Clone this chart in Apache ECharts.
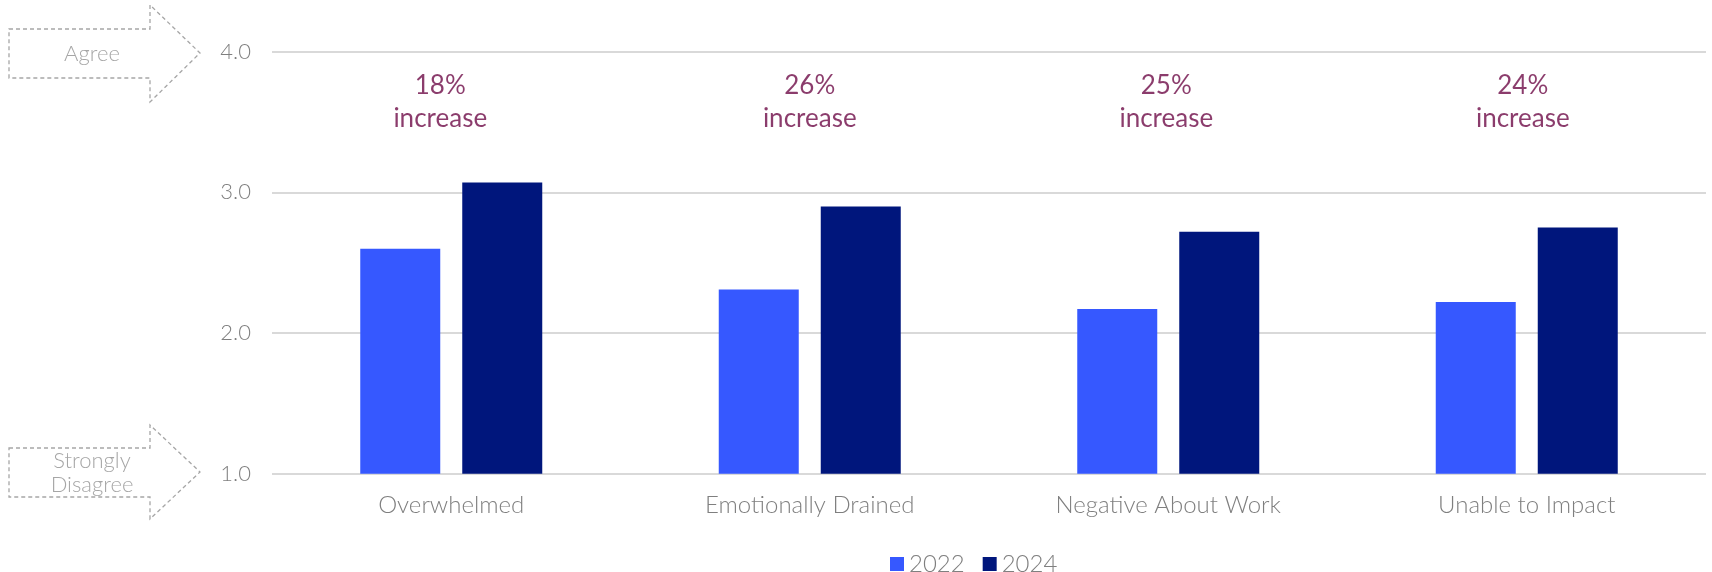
<!DOCTYPE html>
<html>
<head>
<meta charset="utf-8">
<script src="https://cdn.jsdelivr.net/npm/echarts@6/dist/echarts.min.js"></script>
<style>
  html, body { margin: 0; padding: 0; background: #ffffff; }
  #chart { width: 1712px; height: 572px; }
</style>
</head>
<body>
<div id="chart"></div>
<script>
// Burnout indicators, mean agreement score (1 = Strongly Disagree, 4 = Agree)
const categories = ['Overwhelmed', 'Emotionally Drained', 'Negative About Work', 'Unable to Impact'];
const values2022 = [2.60, 2.31, 2.17, 2.22];
const values2024 = [3.07, 2.90, 2.72, 2.75];
const increasePct = [18, 26, 25, 24];
const yTicks = [1, 2, 3, 4];

const FONT = 'Lato, "Noto Sans", sans-serif';
const GREY = '#7f7f7f';
const ARROW_GREY = '#a6a6a6';

// horizontal nudge of each change note relative to its category centre
const noteShiftX = [-11, 0, -2, -4];

const chart = echarts.init(document.getElementById('chart'), null, { renderer: 'canvas' });

// Dashed block arrow with a text label inside, pointing right at an axis tick
function blockArrow(yTop, yBody1, yTip, yBody2, yBottom, lines) {
  const els = [{
    type: 'polygon',
    shape: { points: [[9, yBody1], [150, yBody1], [150, yTop], [200, yTip], [150, yBottom], [150, yBody2], [9, yBody2]] },
    style: { fill: 'none', stroke: ARROW_GREY, lineWidth: 1.3, lineDash: [4, 3] }
  }];
  const mid = (yBody1 + yBody2) / 2;
  const lh = 24;
  lines.forEach((t, i) => {
    els.push({
      type: 'text',
      x: 92, y: mid + (i - (lines.length - 1) / 2) * lh,
      style: {
        text: t, fill: ARROW_GREY, font: '300 22px ' + FONT,
        align: 'center', verticalAlign: 'middle'
      }
    });
  });
  return els;
}

const option = {
  animation: false,
  backgroundColor: '#ffffff',
  grid: { left: 272, right: 6, top: 51.7, bottom: 98.3, containLabel: false },
  legend: {
    data: ['2022', '2024'],
    left: 885, top: 547,
    itemWidth: 14, itemHeight: 14, itemGap: 18,
    icon: 'rect',
    textStyle: { color: GREY, fontFamily: FONT, fontSize: 24, fontWeight: 300 }
  },
  xAxis: {
    type: 'category',
    data: categories,
    axisLine: { show: false },
    axisTick: { show: false },
    axisLabel: { color: GREY, fontFamily: FONT, fontSize: 24, fontWeight: 300, margin: 20 }
  },
  yAxis: {
    type: 'value',
    min: yTicks[0], max: yTicks[yTicks.length - 1], interval: 1,
    axisLine: { show: false },
    axisTick: { show: false },
    axisLabel: {
      color: GREY, fontFamily: FONT, fontSize: 22, fontWeight: 300, margin: 21,
      formatter: v => v.toFixed(1)
    },
    splitLine: { lineStyle: { color: '#d9d9d9', width: 2 } }
  },
  series: [
    {
      name: '2022', type: 'bar', data: values2022,
      barWidth: 80, barGap: '27.5%',
      itemStyle: { color: '#3658ff' }
    },
    {
      name: '2024', type: 'bar', data: values2024,
      barWidth: 80,
      itemStyle: { color: '#00167c' }
    },
    {
      // change notes above each category
      name: 'increase', type: 'scatter', symbolSize: 0, silent: true,
      data: categories.map((c, i) => ({
        value: [c, 3.64],
        label: { offset: [noteShiftX[i], 0] }
      })),
      label: {
        show: true, position: 'inside',
        formatter: p => increasePct[p.dataIndex] + '%\nincrease',
        color: '#6e0b47', fontFamily: FONT, fontSize: 26, lineHeight: 33
      }
    }
  ],
  graphic: [
    ...blockArrow(5, 29, 53, 78, 102, ['Agree']),
    ...blockArrow(425, 448, 472, 497, 519, ['Strongly', 'Disagree'])
  ]
};

chart.setOption(option);
</script>
</body>
</html>
